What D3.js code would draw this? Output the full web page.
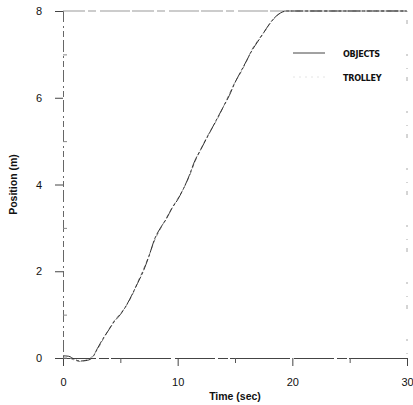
<!DOCTYPE html>
<html>
<head>
<meta charset="utf-8">
<script src="https://cdn.jsdelivr.net/npm/d3@7"></script>
<style>
  body { margin: 0; background: #fff; }
  text { font-family: "Liberation Sans", Arial, sans-serif; fill: #111; }
</style>
</head>
<body>
<div id="chart"></div>
<script>
// time (sec) and positions (m)
const time = [0, 0.5, 1, 1.5, 2, 2.5, 3, 3.5, 4, 4.5, 5, 5.5, 6, 6.5, 7, 7.5, 8, 8.5, 9, 9.5,
  10, 10.5, 11, 11.5, 12, 12.5, 13, 13.5, 14, 14.5, 15, 15.5, 16, 16.5, 17, 17.5, 18, 18.5, 19, 19.5, 20, 25, 30];
const objects = [0.05, 0.04, -0.03, -0.07, -0.06, -0.01, 0.22, 0.45, 0.65, 0.85, 1.0, 1.2, 1.45, 1.72, 2.0, 2.35, 2.75, 3.0, 3.2, 3.45,
  3.65, 3.9, 4.2, 4.55, 4.8, 5.05, 5.3, 5.55, 5.8, 6.05, 6.35, 6.6, 6.85, 7.1, 7.3, 7.5, 7.7, 7.86, 7.96, 8.0, 8.0, 8.0, 8.0];
const trolley = [0.0, 0.0, -0.05, -0.08, -0.05, 0.02, 0.2, 0.43, 0.66, 0.87, 1.02, 1.2, 1.43, 1.74, 2.03, 2.36, 2.72, 2.98, 3.22, 3.46,
  3.67, 3.9, 4.18, 4.52, 4.8, 5.07, 5.3, 5.53, 5.8, 6.08, 6.36, 6.58, 6.84, 7.12, 7.32, 7.5, 7.69, 7.85, 7.96, 8.0, 8.0, 8.0, 8.0];
const xTicks = [0, 10, 20, 30];
const yTicks = [0, 2, 4, 6, 8];
const xMinor = [5, 15, 25];
const yMinor = [1, 3, 5, 7];
const legendNames = ["OBJECTS", "TROLLEY"];

const W = 413, H = 405;
const margin = {top: 11, right: 6, bottom: 47, left: 63},
    width = W - margin.left - margin.right,
    height = H - margin.top - margin.bottom;

const svg = d3.select("#chart")
  .append("svg")
    .attr("width", W)
    .attr("height", H)
  .append("g")
    .attr("transform", "translate(" + margin.left + "," + margin.top + ")");

const xScale = d3.scaleLinear().domain([0, 30]).range([0, width]);
const yScale = d3.scaleLinear().domain([0, 8]).range([height, 0]);

// frame (top and right edges, faded like the scan)
svg.append("line")
  .attr("x1", 0).attr("x2", width).attr("y1", 0).attr("y2", 0)
  .style("stroke", "#999").style("stroke-width", 1)
  .style("stroke-dasharray", "22,3,8,4,30,2");
svg.append("line")
  .attr("x1", width).attr("x2", width).attr("y1", 0).attr("y2", height)
  .style("stroke", "#aaa").style("stroke-width", 1)
  .style("stroke-dasharray", "1,8,4,30,2,12");

// x axis
const xAxis = svg.append("g")
  .attr("transform", "translate(0," + height + ")")
  .call(d3.axisBottom(xScale).tickValues(xTicks).tickSize(8).tickPadding(12).tickFormat(d3.format("d")));
xAxis.select(".domain").style("stroke", "#444").style("stroke-dasharray", "40,3,10,2,60,4");
xAxis.selectAll(".tick line").style("stroke", "#444");
xAxis.selectAll(".tick text").style("font-size", "11px");
svg.append("g")
  .attr("transform", "translate(0," + height + ")")
  .call(d3.axisBottom(xScale).tickValues(xMinor).tickSize(5).tickFormat(""))
  .call(g => g.select(".domain").remove())
  .selectAll("line").style("stroke", "#555");

// y axis
const yAxis = svg.append("g")
  .call(d3.axisLeft(yScale).tickValues(yTicks).tickSize(8).tickPadding(13).tickFormat(d3.format("d")));
yAxis.select(".domain").style("stroke", "#666").style("stroke-dasharray", "6,3,2,4,12,3");
yAxis.selectAll(".tick line").style("stroke", "#444");
yAxis.selectAll(".tick text").style("font-size", "11px");
svg.append("g")
  .call(d3.axisRight(yScale).tickValues(yMinor).tickSize(4).tickFormat(""))
  .call(g => g.select(".domain").remove())
  .selectAll("line").style("stroke", "#888");

const pts = name => time.map((t, i) => ({t: t, v: name === "o" ? objects[i] : trolley[i]}));

const line = d3.line()
  .curve(d3.curveMonotoneX)
  .x(d => xScale(d.t))
  .y(d => yScale(d.v));

svg.append("path")
  .datum(pts("t"))
  .attr("d", line)
  .style("fill", "none")
  .style("stroke", "#888")
  .style("stroke-width", 1)
  .style("stroke-dasharray", "4,3");

svg.append("path")
  .datum(pts("o"))
  .attr("d", line)
  .style("fill", "none")
  .style("stroke", "#333")
  .style("stroke-width", 1)
  .style("stroke-dasharray", "12,2,3,2");

// legend
const legend = svg.append("g").attr("transform", "translate(230,42)");
legendNames.forEach(function(name, i) {
  legend.append("line")
    .attr("x1", 0).attr("x2", 32).attr("y1", i * 24).attr("y2", i * 24)
    .style("stroke", i === 0 ? "#444" : "#e4e4e4")
    .style("stroke-width", 1)
    .style("stroke-dasharray", i === 0 ? null : "2,4");
  legend.append("text")
    .attr("x", 50).attr("y", i * 24 + 4)
    .style("font-family", "'DejaVu Sans Condensed', 'Liberation Sans Narrow', sans-serif")
    .style("font-size", "9px")
    .style("font-weight", "bold")
    .style("letter-spacing", "-0.3px")
    .text(name);
});

// axis titles
svg.append("text")
  .attr("x", width / 2)
  .attr("y", height + 42)
  .style("text-anchor", "middle")
  .style("font-size", "10.5px")
  .style("font-weight", "bold")
  .text("Time (sec)");

svg.append("text")
  .attr("transform", "rotate(-90)")
  .attr("x", -height / 2)
  .attr("y", -46)
  .style("text-anchor", "middle")
  .style("font-size", "10.5px")
  .style("font-weight", "bold")
  .text("Position (m)");
</script>
</body>
</html>
